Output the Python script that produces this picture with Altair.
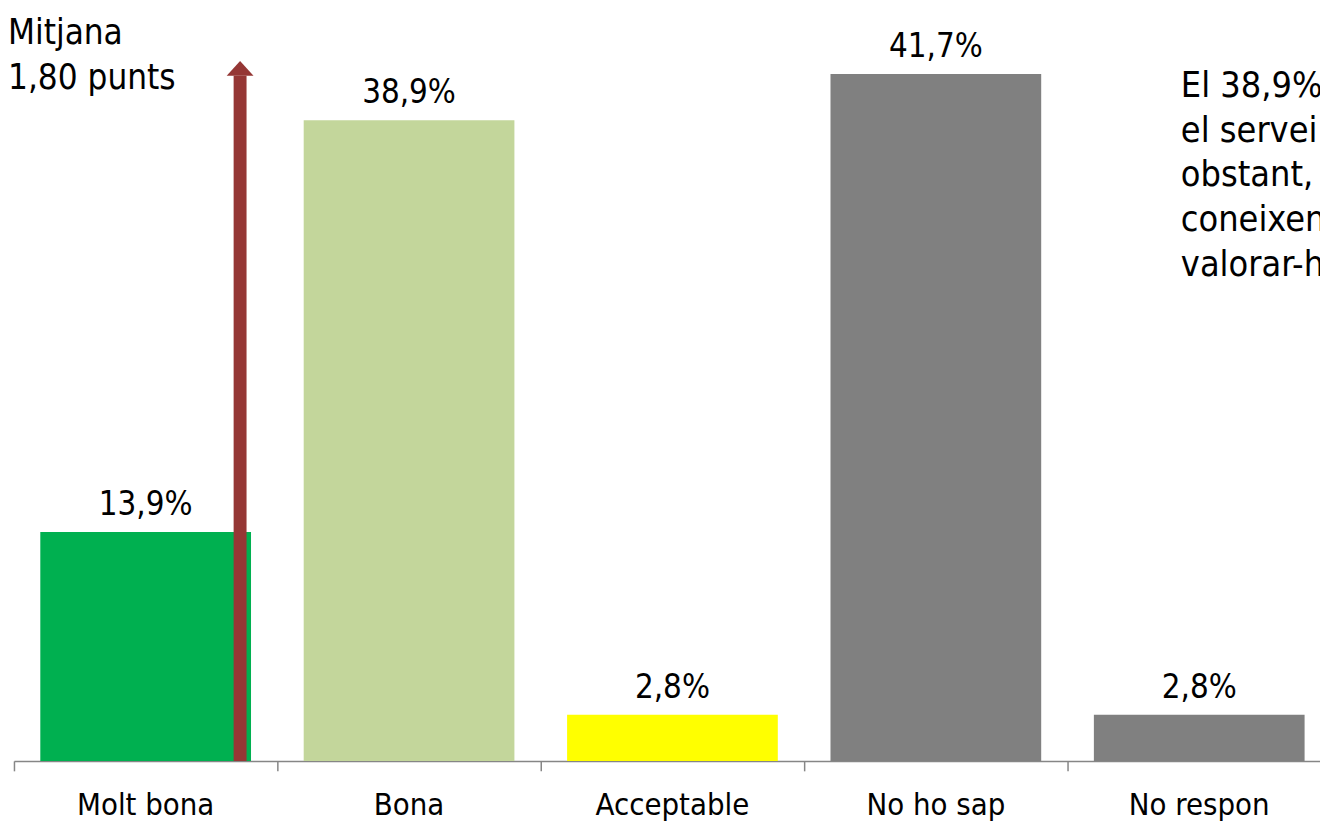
import altair as alt
import pandas as pd

categories = ["Molt bona", "Bona", "Acceptable", "No ho sap", "No respon"]
values = [13.9, 38.9, 2.8, 41.7, 2.8]
colors = ["#00B050", "#C3D69B", "#FFFF00", "#808080", "#808080"]
mean_label = ["Mitjana", "1,80 punts"]
note_lines = ["El 38,9% dels enquestats valora", "el servei com a bo; no", "obstant, el 41,7% no el",
              "coneixen prou per poder", "valorar-ho."]
arrow_pos = 0.3585   # position of the mean arrow, in category units
arrow_top = 41.6     # top of the arrow shaft, in % units

FONT = "DejaVu Sans Condensed"
W, H = 1314, 755
STEP = 265.0

df = pd.DataFrame({
    "cat": categories,
    "idx": list(range(len(categories))),
    "val": values,
    "label": [f"{v:.1f}%".replace(".", ",") for v in values],
})

xscale = alt.Scale(domain=[-0.5, -0.5 + W / STEP], nice=False, zero=False)
yscale = alt.Scale(domain=[0, 45.56], nice=False)
boundaries = [i - 0.5 for i in range(len(categories) + 1)]

bars = alt.Chart(df).transform_calculate(
    lo="datum.idx - 0.4", hi="datum.idx + 0.4"
).mark_bar().encode(
    x=alt.X("lo:Q", scale=xscale,
            axis=alt.Axis(title=None, values=boundaries, labels=False, grid=False,
                          tickSize=10, domain=True)),
    x2="hi:Q",
    y=alt.Y("val:Q", scale=yscale, axis=None),
    y2=alt.datum(0),
    color=alt.Color("cat:N", scale=alt.Scale(domain=categories, range=colors), legend=None),
)

texts = alt.Chart(df).mark_text(baseline="alphabetic", dy=-17, fontSize=33, font=FONT,
                                color="black").encode(
    x=alt.X("idx:Q", scale=xscale), y=alt.Y("val:Q", scale=yscale), text="label:N")

cat_labels = alt.Chart(df).mark_text(baseline="alphabetic", fontSize=31, font=FONT,
                                     color="black").encode(
    x=alt.X("idx:Q", scale=xscale), y=alt.value(809), text="cat:N")

arrow_df = pd.DataFrame({"x": [arrow_pos], "y0": [0.0], "y1": [arrow_top]})
shaft = alt.Chart(arrow_df).mark_rule(strokeWidth=13, color="#953735").encode(
    x=alt.X("x:Q", scale=xscale), y=alt.Y("y0:Q", scale=yscale), y2="y1:Q")
head = alt.Chart(arrow_df).mark_point(shape="M -1 0 L 1 0 L 0 -1.1 Z", size=729, filled=True,
                                      opacity=1, color="#953735").encode(
    x=alt.X("x:Q", scale=xscale), y=alt.Y("y1:Q", scale=yscale))

ann_df = pd.DataFrame({"t": [mean_label]})
left_txt = alt.Chart(ann_df).mark_text(align="left", baseline="alphabetic", fontSize=35,
                                       lineHeight=45, font=FONT, color="black").encode(
    x=alt.value(-6), y=alt.value(34), text="t")

note_df = pd.DataFrame({"t": [note_lines]})
right_txt = alt.Chart(note_df).mark_text(align="left", baseline="alphabetic", fontSize=36,
                                         lineHeight=45, font=FONT, color="black").encode(
    x=alt.value(1174), y=alt.value(87), text="t")

chart = alt.layer(bars, texts, cat_labels, shaft, head, left_txt, right_txt).properties(
    width=W, height=H,
    autosize=alt.AutoSizeParams(type="none"),
    padding={"left": 6, "top": 0, "right": 0, "bottom": 61},
    background="white",
).configure_view(stroke=None).configure_axis(
    domainColor="#868686", domainWidth=1.5, tickColor="#868686", tickWidth=1.5, grid=False,
)

chart.save("out.html", embed_options={"renderer": "svg", "actions": False})
